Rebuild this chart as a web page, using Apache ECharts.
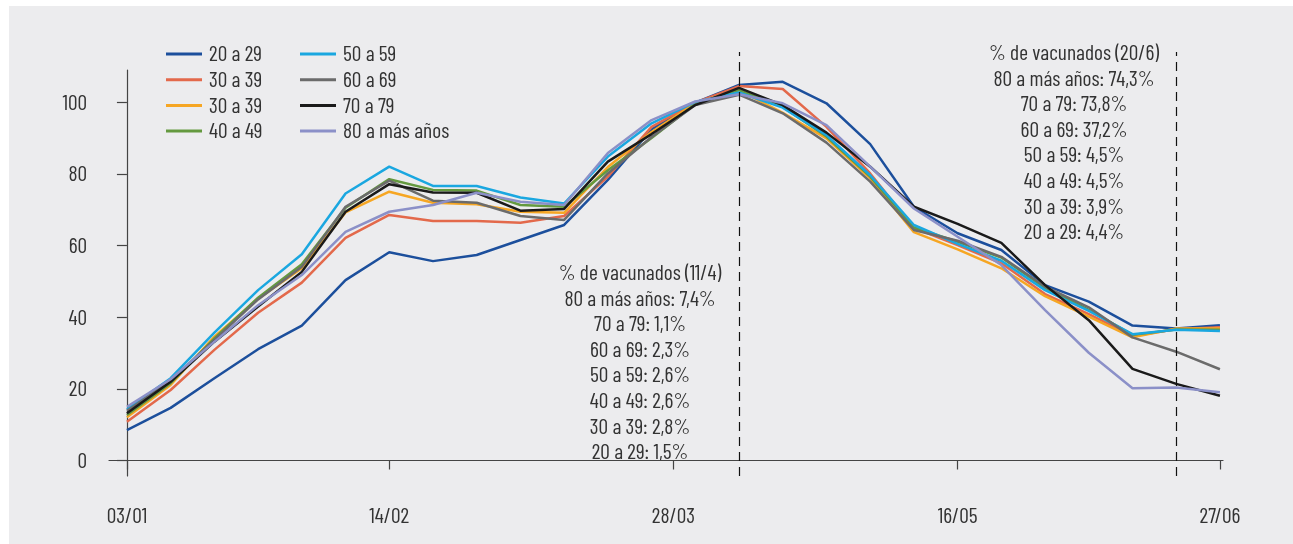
<!DOCTYPE html>
<html lang="es">
<head>
<meta charset="utf-8">
<title>Casos por grupo de edad</title>
<script src="https://cdn.jsdelivr.net/npm/echarts@6/dist/echarts.min.js"></script>
<style>
  * {
    margin: 0;
    padding: 0;
    box-sizing: border-box;
  }

  body {
    background-color: #fff;
  }

  .bg {
    position: absolute;
    left: 9px;
    top: 6px;
    width: 1284px;
    height: 538px;
    background-color: #ececee;
  }

  #chart {
    position: absolute;
    left: 0;
    top: 0;
    width: 1293px;
    height: 544px;
  }
</style>
</head>
<body>
<div class="bg"></div>
<div id="chart"></div>

<script>
// semanas desde 03/01 (una por punto)
const weeks = [0, 1, 2, 3, 4, 5, 6, 7, 8, 9, 10, 11, 12, 13, 14, 15, 16, 17, 18, 19, 20, 21, 22, 23, 24, 25]
const tickWeeks = [0, 6, 12.5, 19, 25]
const tickLabels = ['03/01', '14/02', '28/03', '16/05', '27/06']
const yTicks = [0, 20, 40, 60, 80, 100]

// el segundo "30 a 39" lleva un espacio para no chocar con el primero en la leyenda
const names = ['20 a 29', '30 a 39', '30 a 39 ', '40 a 49', '50 a 59', '60 a 69', '70 a 79', '80 a más años']
const colors = ['#1c4f9c', '#e3694b', '#f6a623', '#64993f', '#1aa7e0', '#6b6b6b', '#1a1a1a', '#8b90c8']

const s20 = [8.5, 14.7, 23.0, 31.1, 37.7, 50.4, 58.2, 55.7, 57.4, 61.6, 65.8, 78.4, 92.5, 100.0, 104.9, 105.8, 99.8, 88.4, 70.9, 63.5, 58.8, 49.0, 44.4, 37.7, 36.9, 37.8]
const s30a = [10.8, 19.7, 30.9, 41.3, 49.7, 62.2, 68.6, 66.9, 66.9, 66.4, 68.3, 79.3, 93.2, 100.0, 104.6, 103.8, 93.2, 80.2, 65.0, 60.2, 55.1, 46.5, 40.9, 34.8, 36.7, 37.2]
const s30b = [12.1, 21.1, 34.6, 45.2, 53.7, 69.3, 75.1, 72.0, 71.6, 69.5, 69.2, 82.0, 91.8, 99.8, 103.5, 97.1, 90.0, 78.8, 63.8, 59.0, 53.7, 45.9, 40.2, 34.4, 36.9, 36.9]
const s40 = [12.7, 21.6, 34.1, 45.5, 54.8, 70.6, 78.6, 75.6, 75.4, 71.4, 70.9, 81.1, 90.1, 99.6, 103.5, 98.8, 90.5, 79.3, 65.1, 61.1, 56.7, 48.2, 42.1, 35.1, 36.6, 36.5]
const s50 = [14.3, 23.0, 35.7, 47.6, 57.6, 74.6, 82.1, 76.7, 76.7, 73.5, 71.8, 84.9, 94.2, 100.2, 102.8, 98.6, 90.9, 79.7, 65.8, 60.5, 55.8, 47.6, 41.8, 35.3, 36.5, 36.2]
const s60 = [13.9, 22.3, 33.7, 45.0, 54.1, 70.9, 78.2, 72.6, 72.0, 68.3, 67.2, 80.2, 90.4, 99.3, 102.2, 97.0, 88.8, 77.9, 64.4, 61.4, 56.9, 48.6, 42.8, 34.4, 30.4, 25.5]
const s70 = [13.2, 22.0, 33.2, 43.0, 52.7, 69.5, 77.2, 74.9, 74.8, 69.8, 70.3, 83.5, 91.2, 99.3, 104.1, 99.3, 91.6, 82.1, 70.9, 66.1, 60.8, 49.0, 39.2, 25.6, 21.4, 18.1]
const s80 = [15.0, 22.7, 33.2, 43.4, 51.8, 63.9, 69.5, 71.4, 74.8, 72.3, 71.4, 85.9, 95.1, 100.3, 102.3, 99.8, 93.7, 82.1, 70.4, 62.5, 54.6, 42.0, 30.1, 20.2, 20.4, 19.1]
const seriesValues = [s20, s30a, s30b, s40, s50, s60, s70, s80]

// fechas de corte (11/4 y 20/6) en semanas
const cutWeeks = [14, 24]
const note1 = ['% de vacunados (11/4)', '80 a más años: 7,4%', '70 a 79: 1,1%', '60 a 69: 2,3%', '50 a 59: 2,6%', '40 a 49: 2,6%', '30 a 39: 2,8%', '20 a 29: 1,5%']
const note2 = ['% de vacunados (20/6)', '80 a más años: 74,3%', '70 a 79: 73,8%', '60 a 69: 37,2%', '50 a 59: 4,5%', '40 a 49: 4,5%', '30 a 39: 3,9%', '20 a 29: 4,4%']

const FONT = '"Barlow Condensed", "Roboto Condensed", sans-serif'
const FS = 21.5
const TEXT = '#333'

const chart = echarts.init(document.getElementById('chart'), null, { renderer: 'canvas' })

const legendBase = {
  orient: 'vertical',
  top: 43,
  padding: 0,
  itemGap: 3.7,
  itemWidth: 36,
  itemHeight: 3,
  icon: 'rect',
  formatter: name => name.trim(),
  textStyle: { fontFamily: FONT, fontSize: FS, lineHeight: 22, color: TEXT, padding: [0, 0, 0, 2] }
}

const lineSeries = names.map((name, i) => ({
  name: name,
  type: 'line',
  xAxisIndex: 0,
  yAxisIndex: 0,
  data: weeks.map((w, j) => [w, seriesValues[i][j]]),
  showSymbol: false,
  symbol: 'none',
  color: colors[i],
  lineStyle: { width: 2.5, color: colors[i] },
  silent: true
}))

const noteText = (lines, x, y) => ({
  type: 'text',
  x: x,
  y: y,
  style: {
    text: lines.join('\n'),
    align: 'center',
    verticalAlign: 'top',
    font: FS + 'px ' + FONT,
    lineHeight: 25.6,
    fill: TEXT
  }
})

chart.setOption({
  animation: false,
  legend: [
    Object.assign({}, legendBase, { left: 166, data: names.slice(0, 4) }),
    Object.assign({}, legendBase, { left: 300, data: names.slice(4) })
  ],
  grid: [
    { left: 109, right: 70, top: 70, bottom: 68, containLabel: false },
    // grid auxiliar para las líneas punteadas que suben más que el eje
    { left: 109, right: 70, top: 52, bottom: 68, containLabel: false }
  ],
  xAxis: [
    {
      type: 'value',
      gridIndex: 0,
      min: -0.41,
      max: 25.07,
      splitLine: { show: false },
      axisLine: { show: true, lineStyle: { color: '#444', width: 1.2 } },
      axisTick: { show: true, length: 9, customValues: tickWeeks, lineStyle: { color: '#444', width: 1.2 } },
      axisLabel: {
        customValues: tickWeeks,
        formatter: v => tickLabels[tickWeeks.indexOf(v)] || '',
        margin: 29,
        fontFamily: FONT,
        fontSize: FS,
        color: TEXT
      }
    },
    {
      type: 'value',
      gridIndex: 1,
      min: -0.41,
      max: 25.07,
      show: false
    }
  ],
  yAxis: [
    {
      type: 'value',
      gridIndex: 0,
      min: -4.33,
      max: 109.1,
      splitLine: { show: false },
      axisLine: { show: true, lineStyle: { color: '#444', width: 1.2 } },
      axisTick: { show: true, length: 10, customValues: yTicks, lineStyle: { color: '#444', width: 1.2 } },
      axisLabel: {
        customValues: yTicks,
        margin: 22,
        fontFamily: FONT,
        fontSize: FS,
        color: TEXT
      }
    },
    {
      type: 'value',
      gridIndex: 1,
      min: 0,
      max: 1,
      show: false
    }
  ],
  graphic: [
    noteText(note1, 640, 260),
    noteText(note2, 1074, 40)
  ],
  series: lineSeries.concat([
    {
      name: 'cortes',
      type: 'line',
      xAxisIndex: 1,
      yAxisIndex: 1,
      data: [],
      silent: true,
      markLine: {
        silent: true,
        symbol: 'none',
        label: { show: false },
        lineStyle: { color: '#111', width: 1.2, type: [9, 6] },
        data: cutWeeks.map(w => ({ xAxis: w }))
      }
    }
  ])
})
</script>
</body>
</html>
